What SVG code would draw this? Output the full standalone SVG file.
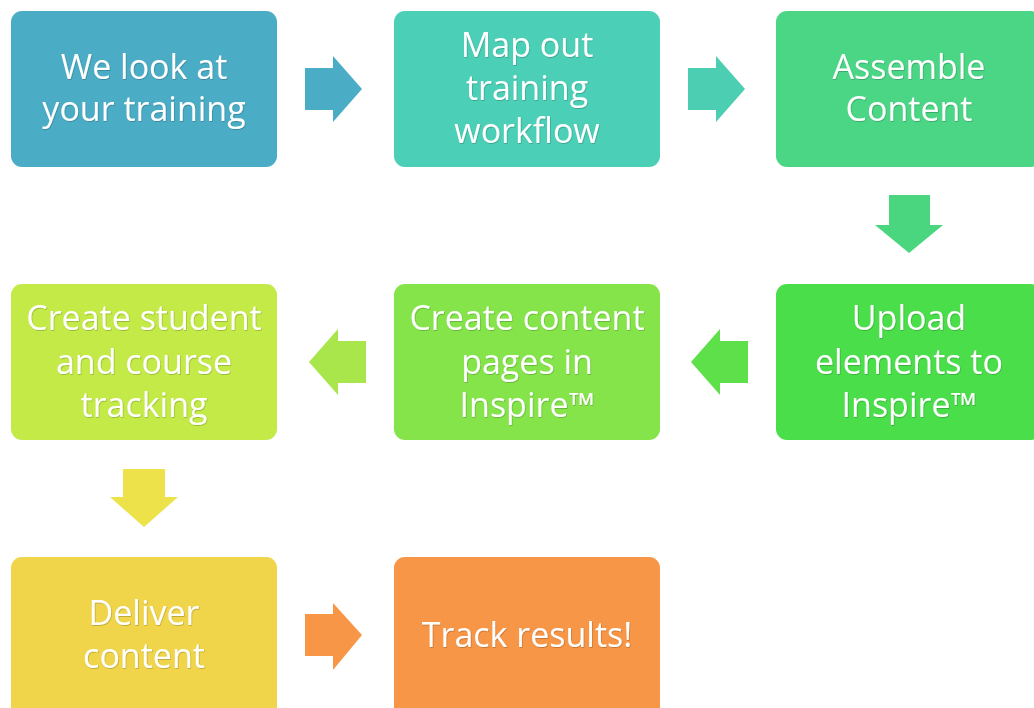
<svg xmlns="http://www.w3.org/2000/svg" width="1034" height="708" viewBox="0 0 1034 708">
<style>
.box{stroke:none}
.t{font-family:"Open Sans","Liberation Sans",sans-serif;font-size:34px;fill:#ffffff;text-anchor:middle;filter:url(#sh)}
</style>
<defs>
<filter id="sh" x="-10%" y="-20%" width="120%" height="140%">
<feDropShadow dx="0.6" dy="0.8" stdDeviation="0.6" flood-color="#000000" flood-opacity="0.25"/>
</filter>
</defs>
<rect width="1034" height="708" fill="#ffffff"/>
<g id="connectors">
  <path d="M305,68 H333 V56 L362,89 L333,122 V110 H305 Z" fill="#4BACC6"/>
  <path d="M688,68 H716 V56 L745,89 L716,122 V110 H688 Z" fill="#4BCEB2"/>
  <path d="M889,195 H930 V225 H943 L909,253 L875,225 H889 Z" fill="#4AD67E"/>
  <path d="M748,341 H720 V329 L691,362 L720,395 V383 H748 Z" fill="#5DE04A"/>
  <path d="M366,341 H338 V329 L309,362 L338,395 V383 H366 Z" fill="#A8E64B"/>
  <path d="M123,469 H165 V497 H178 L144,527 L110,497 H123 Z" fill="#EEE24A"/>
  <path d="M305,614 H333 V603 L362,635 L333,670 V656 H305 Z" fill="#F79646"/>
</g>
<g id="n1"><rect class="box" x="11" y="11" width="266" height="156" rx="11" fill="#4BACC6"/>
<text class="t" x="144" y="79">We look at</text><text class="t" x="144" y="121">your training</text></g>
<g id="n2"><rect class="box" x="394" y="11" width="266" height="156" rx="11" fill="#4BCFB6"/>
<text class="t" x="527" y="57">Map out</text><text class="t" x="527" y="100">training</text><text class="t" x="527" y="143">workflow</text></g>
<g id="n3"><rect class="box" x="776" y="11" width="266" height="156" rx="11" fill="#4AD685"/>
<text class="t" x="909" y="79">Assemble</text><text class="t" x="909" y="121">Content</text></g>
<g id="n4"><rect class="box" x="776" y="284" width="266" height="156" rx="11" fill="#4ADE4A"/>
<text class="t" x="909" y="330">Upload</text><text class="t" x="909" y="374">elements to</text><text class="t" x="909" y="417">Inspire™</text></g>
<g id="n5"><rect class="box" x="394" y="284" width="266" height="156" rx="11" fill="#84E44A"/>
<text class="t" x="527" y="330">Create content</text><text class="t" x="527" y="374">pages in</text><text class="t" x="527" y="417">Inspire™</text></g>
<g id="n6"><rect class="box" x="11" y="284" width="266" height="156" rx="11" fill="#C3EA46"/>
<text class="t" x="144" y="330">Create student</text><text class="t" x="144" y="374">and course</text><text class="t" x="144" y="417">tracking</text></g>
<g id="n7"><rect class="box" x="11" y="557" width="266" height="170" rx="11" fill="#F0D54A"/>
<text class="t" x="144" y="625">Deliver</text><text class="t" x="144" y="668">content</text></g>
<g id="n8"><rect class="box" x="394" y="557" width="266" height="170" rx="11" fill="#F79646"/>
<text class="t" x="527" y="647">Track results!</text></g>
</svg>
